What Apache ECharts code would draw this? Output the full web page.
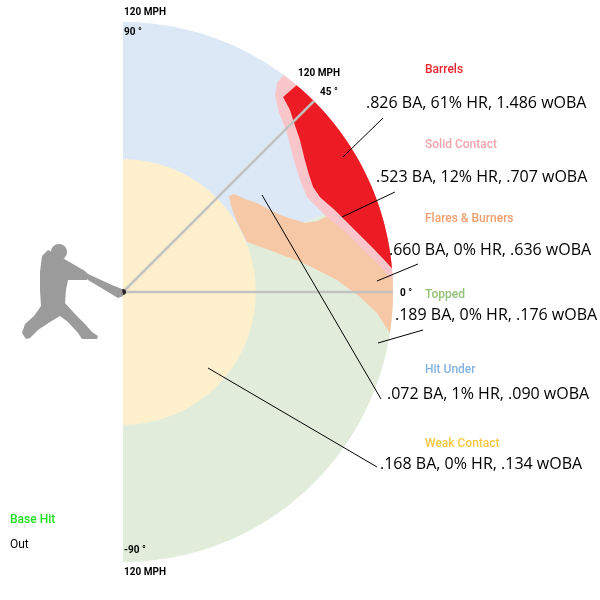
<!DOCTYPE html>
<html><head><meta charset="utf-8">
<script src="https://cdn.jsdelivr.net/npm/echarts@6/dist/echarts.min.js"></script>
<style>html,body{margin:0;padding:0;background:#fff}#c{width:600px;height:600px}</style>
</head><body><div id="c"></div>
<script>
// ---- data: [exit velocity mph, launch angle deg] ----
const maxMph = 120;
const hitUnderRange = [21, 90];
const toppedRange = [-90, 21];
const weakContactMph = 59;
const weakRange = [-90, 90];
const barrelsArc = [5, 50];
const barrelsEdge = [[112.1,50.6],[109.8,47.5],[106.5,44.2],[103.7,40.7],[99.9,36.0],[97.7,32.2],[96.5,28.9],[97.2,25.7],[101.0,21.1],[106.1,15.5],[112.5,10.2],[118.0,6.3]];
const solidArc = [2.5, 53.5];
const solidEdge = [[115.4,53.6],[110.6,52.3],[106.3,49.6],[101.5,44.1],[96.5,38.5],[93.1,32.3],[92.0,27.3],[94.1,23.7],[96.6,20.2],[101.6,15.7],[107.2,10.8],[113.6,6.5],[118.9,3.2]];
const flaresArc = [-8.8, 8];
const flaresEdge = [[96.8,20.4],[92.2,20.0],[86.5,20.8],[82.2,23.2],[78.7,25.4],[74.8,29.2],[71.5,33.6],[68.2,37.3],[65.8,41.4],[63.6,42.2],[61.6,38.9],[59.9,33.8],[59.3,28.7],[59.4,22.0],[67.9,15.9],[81.0,9.2],[95.3,3.2],[105.4,-1.2],[113.3,-4.7]];
const refAngles = [0, 45];
const categories = ['Barrels','Solid Contact','Flares & Burners','Topped','Hit Under','Weak Contact'];
const statLines = ['.826 BA, 61% HR, 1.486 wOBA','.523 BA, 12% HR, .707 wOBA','.660 BA, 0% HR, .636 wOBA','.189 BA, 0% HR, .176 wOBA','.072 BA, 1% HR, .090 wOBA','.168 BA, 0% HR, .134 wOBA'];
const angleTickLabels = ['90 °','45 °','0 °','-90 °'];
const speedLabel = '120 MPH';
const legendLabels = ['Base Hit','Out'];

// ---- styles ----
const colors = {hitUnder:'#dce8f5', topped:'#e1edda', weak:'#fef0cd', flares:'#f7c8a5', solid:'#f8c6ca', barrels:'#ed1c24'};
const catColors = ['#e8262f','#f5a3ab','#f0a070','#94c27a','#86b2de','#f5c742'];

function arcPts(api, r, a0, a1){
  const pts=[]; const n=Math.max(2, Math.ceil(Math.abs(a1-a0))+1);
  for(let i=0;i<n;i++){ const a=a0+(a1-a0)*i/(n-1); pts.push(api.coord([r,a])); }
  return pts;
}
function sectorPts(api, r, range){ return [api.coord([0, range[0]])].concat(arcPts(api, r, range[0], range[1])); }
function edgePts(api, edge, arcR){
  return [api.coord([maxMph, arcR[1]])].concat(edge.map(p=>api.coord(p))).concat(arcPts(api, maxMph, arcR[0], arcR[1]));
}
function region(name, color, build){
  return {type:'custom', name, coordinateSystem:'polar', silent:true, data:[[0,0]],
    renderItem:(params, api)=>({type:'polygon', shape:{points: build(api)}, style:{fill: color}})};
}

const chart = echarts.init(document.getElementById('c'));
const txt = (x,y,t,o)=>({type:'text', z:100, x, y, style:Object.assign({text:t, fill:'#000', font:'bold 10px Roboto', textVerticalAlign:'middle'}, o||{})});
const line = (x1,y1,x2,y2)=>({type:'line', z:100, shape:{x1,y1,x2,y2}, style:{stroke:'#000', lineWidth:1}});
const catY = [70,145,219,295,370,444];
const statPos = [[366,103],[376,177],[389,250],[395,315],[387,394],[380,464]];
const leaders = [[383,118,343,157],[395,192,342,217],[418,264,377,281],[423,330,378,343],[262,195,381,399],[208,368,377,467]];
const graphics = [];
categories.forEach((c,i)=>graphics.push(txt(425, catY[i], c, {fill:catColors[i], font:'500 12px Roboto'})));
statLines.forEach((s,i)=>graphics.push(txt(statPos[i][0], statPos[i][1], s, {font:'16px "Open Sans"'})));
leaders.forEach(l=>graphics.push(line(...l)));
graphics.push(txt(124, 12, speedLabel), txt(124, 32, angleTickLabels[0]), txt(298, 73, speedLabel), txt(320, 92, angleTickLabels[1]),
  txt(400, 293, angleTickLabels[2]), txt(124, 550, angleTickLabels[3]), txt(124, 572, speedLabel));
graphics.push(txt(10, 520, legendLabels[0], {fill:'#22dd22', font:'500 12px Roboto'}), txt(10, 545, legendLabels[1], {font:'12px Roboto'}));
// batter silhouette (decoration)
const gray = '#9b9b9b';
graphics.push({type:'circle', z:100, shape:{cx:59, cy:252, r:8}, style:{fill:gray}});
graphics.push({type:'polygon', z:100, shape:{points:[[42,256],[48,250],[60,256],[66,260],[85,271],[90,276],[87,280],[68,280],[66,290],[65,303],[75,314],[84,323],[92,332],[98,336],[97,339],[82,339],[78,333],[68,322],[60,316],[50,322],[38,330],[30,338],[26,339],[22,333],[25,324],[34,316],[41,306],[40,290],[40,272]]}, style:{fill:gray}});
graphics.push({type:'polygon', z:100, shape:{points:[[88,274],[112,285],[122,289],[123,296],[118,298],[88,280]]}, style:{fill:gray}});

chart.setOption({
  animation:false,
  polar:{center:[123,292], radius:270},
  angleAxis:{type:'value', min:-180, max:180, startAngle:180, clockwise:false, show:false},
  radiusAxis:{type:'value', min:0, max:maxMph, show:false},
  series:[
    region('Hit Under', colors.hitUnder, api=>sectorPts(api, maxMph, hitUnderRange)),
    region('Topped', colors.topped, api=>sectorPts(api, maxMph, toppedRange)),
    region('Weak Contact', colors.weak, api=>sectorPts(api, weakContactMph, weakRange)),
    region('Flares & Burners', colors.flares, api=>edgePts(api, flaresEdge, flaresArc)),
    region('Solid Contact', colors.solid, api=>edgePts(api, solidEdge, solidArc)),
    region('Barrels', colors.barrels, api=>edgePts(api, barrelsEdge, barrelsArc)),
    ...refAngles.map(a=>({type:'line', coordinateSystem:'polar', silent:true, showSymbol:false, data:[[0,a],[maxMph,a]], lineStyle:{color:'#c2c2c2', width:2.5}})),
    {type:'scatter', coordinateSystem:'polar', silent:true, data:[[0,0]], symbolSize:6, itemStyle:{color:'#000'}, z:5}
  ],
  graphic:graphics
});
</script></body></html>
